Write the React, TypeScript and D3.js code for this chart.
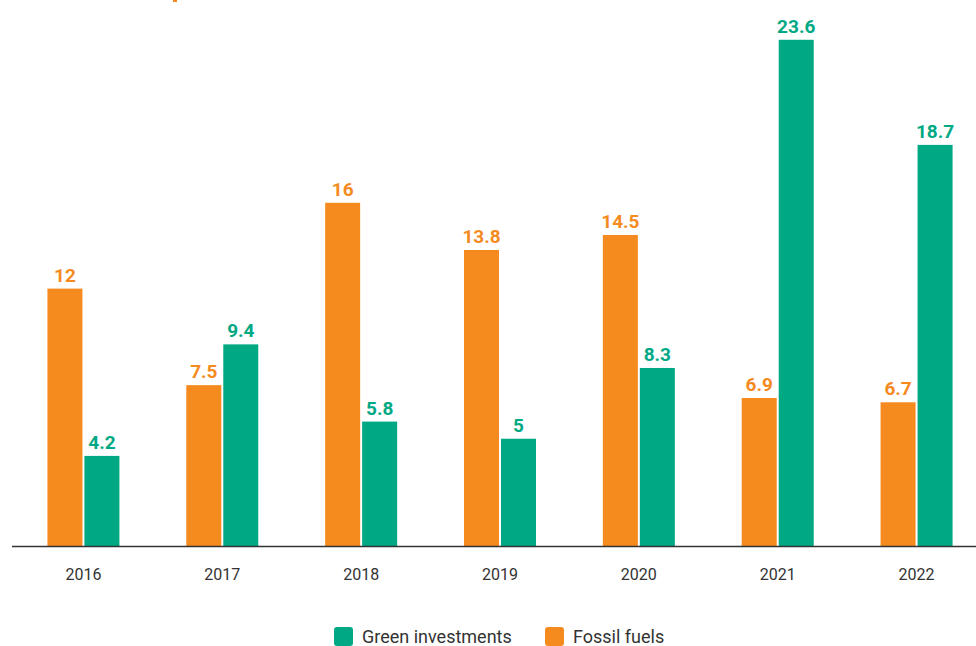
import React from "react";
import * as d3 from "d3";

const years = ["2016", "2017", "2018", "2019", "2020", "2021", "2022"];
const fossil = [12, 7.5, 16, 13.8, 14.5, 6.9, 6.7];
const green = [4.2, 9.4, 5.8, 5, 8.3, 23.6, 18.7];
const seriesNames = ["Green investments", "Fossil fuels"];

const ORANGE = "#F58B1F";
const GREEN = "#00A884";
const FONT = "'Liberation Sans Narrow', 'Roboto', 'Liberation Sans', sans-serif";

export default function App() {
  const W = 976, H = 646;
  const baseY = 546;
  const x = d3.scaleBand<string>().domain(years).range([14, 986]).padding(0);
  const y = d3.scaleLinear().domain([0, 10]).range([baseY, baseY - 214.5]);
  const bw = 35, gap = 2;
  return (
    <svg width={W} height={H} style={{ position: "absolute", left: 0, top: 0, fontFamily: FONT }}>
      <rect x={173} y={-2} width={4} height={4} fill={ORANGE} />
      {years.map((yr, i) => {
        const cx = (x(yr) as number) + x.bandwidth() / 2;
        const ox = cx - gap / 2 - bw;
        const gx = cx + gap / 2;
        return (
          <g key={yr}>
            <rect x={ox} y={y(fossil[i])} width={bw} height={baseY - y(fossil[i])} fill={ORANGE} />
            <rect x={gx} y={y(green[i])} width={bw} height={baseY - y(green[i])} fill={GREEN} />
            <text x={ox + bw / 2} y={y(fossil[i]) - 7} textAnchor="middle" fontSize={19} fontWeight="bold" fill={ORANGE}>{fossil[i]}</text>
            <text x={gx + bw / 2} y={y(green[i]) - 7} textAnchor="middle" fontSize={19} fontWeight="bold" fill={GREEN}>{green[i]}</text>
            <text x={cx} y={580} textAnchor="middle" fontSize={16} fill="#333">{yr}</text>
          </g>
        );
      })}
      <line x1={12} x2={976} y1={baseY + 0.5} y2={baseY + 0.5} stroke="#333" strokeWidth={1.3} />
      <rect x={334} y={627} width={19} height={19} rx={3} fill={GREEN} />
      <text x={362} y={643} fontSize={18} fill="#333">{seriesNames[0]}</text>
      <rect x={545} y={627} width={19} height={19} rx={3} fill={ORANGE} />
      <text x={573} y={643} fontSize={18} fill="#333">{seriesNames[1]}</text>
    </svg>
  );
}
